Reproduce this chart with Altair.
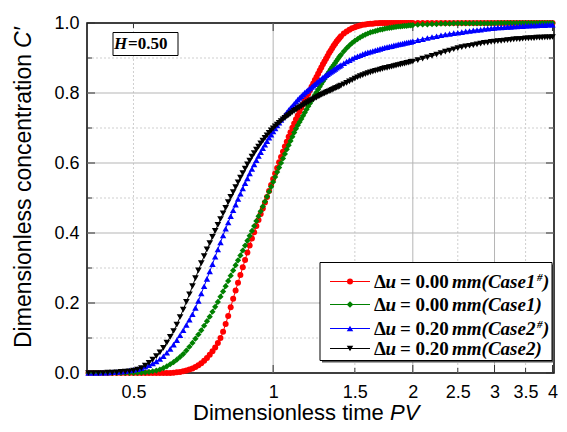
import altair as alt
import pandas as pd

# ---------------- data ----------------
PV = [
    0.40, 0.41, 0.42, 0.43, 0.44, 0.45, 0.46, 0.47, 0.48, 0.49,
    0.50, 0.51, 0.52, 0.53, 0.54, 0.55, 0.56, 0.57, 0.58, 0.59,
    0.60, 0.61, 0.62, 0.63, 0.64, 0.65, 0.66, 0.67, 0.68, 0.69,
    0.70, 0.71, 0.72, 0.73, 0.74, 0.75, 0.76, 0.77, 0.78, 0.79,
    0.80, 0.81, 0.82, 0.83, 0.84, 0.85, 0.86, 0.87, 0.88, 0.89,
    0.90, 0.91, 0.92, 0.93, 0.94, 0.95, 0.96, 0.97, 0.98, 0.99,
    1.00, 1.01, 1.02, 1.03, 1.04, 1.05, 1.06, 1.07, 1.08, 1.09,
    1.10, 1.11, 1.12, 1.13, 1.14, 1.15, 1.16, 1.17, 1.18, 1.19,
    1.20, 1.21, 1.22, 1.23, 1.24, 1.25, 1.26, 1.27, 1.28, 1.29,
    1.30, 1.31, 1.32, 1.33, 1.34, 1.35, 1.36, 1.37, 1.38, 1.39,
    1.40,
    1.42, 1.44, 1.46, 1.48, 1.50, 1.52, 1.54, 1.56, 1.58, 1.60,
    1.62, 1.64, 1.66, 1.68, 1.70, 1.72, 1.74, 1.76, 1.78, 1.80,
    1.82, 1.84, 1.86, 1.88, 1.90, 1.92, 1.94, 1.96, 1.98, 2.00,
    2.05, 2.10, 2.15, 2.20, 2.25, 2.30, 2.35, 2.40, 2.45, 2.50,
    2.55, 2.60, 2.65, 2.70, 2.75, 2.80, 2.85, 2.90, 2.95, 3.00,
    3.05, 3.10, 3.15, 3.20, 3.25, 3.30, 3.35, 3.40, 3.45, 3.50,
    3.55, 3.60, 3.65, 3.70, 3.75, 3.80, 3.85, 3.90, 3.95, 4.00,
]

C_CASE1_SHARP = [
    0.000, 0.000, 0.000, 0.000, 0.000, 0.000, 0.000, 0.000, 0.000, 0.000,
    0.000, 0.000, 0.000, 0.000, 0.000, 0.000, 0.000, 0.000, 0.000, 0.000,
    0.000, 0.001, 0.002, 0.003, 0.005, 0.007, 0.010, 0.013, 0.017, 0.022,
    0.028, 0.035, 0.043, 0.052, 0.062, 0.073, 0.086, 0.100, 0.118, 0.140,
    0.163, 0.188, 0.212, 0.236, 0.258, 0.280, 0.302, 0.323, 0.344, 0.364,
    0.384, 0.402, 0.420, 0.437, 0.454, 0.470, 0.487, 0.503, 0.520, 0.537,
    0.554, 0.570, 0.586, 0.602, 0.617, 0.632, 0.647, 0.661, 0.675, 0.688,
    0.701, 0.713, 0.725, 0.736, 0.747, 0.758, 0.768, 0.778, 0.788, 0.798,
    0.808, 0.818, 0.827, 0.837, 0.846, 0.855, 0.864, 0.873, 0.882, 0.890,
    0.898, 0.906, 0.914, 0.921, 0.928, 0.935, 0.941, 0.947, 0.952, 0.957,
    0.962,
    0.970, 0.976, 0.981, 0.985, 0.988, 0.991, 0.993, 0.995, 0.996, 0.997,
    0.998, 0.998, 0.999, 0.999, 1.000, 1.000, 1.000, 1.000, 1.000, 1.000,
    1.000, 1.000, 1.000, 1.000, 1.000, 1.000, 1.000, 1.000, 1.000, 1.000,
    1.000, 1.000, 1.000, 1.000, 1.000, 1.000, 1.000, 1.000, 1.000, 1.000,
    1.000, 1.000, 1.000, 1.000, 1.000, 1.000, 1.000, 1.000, 1.000, 1.000,
    1.000, 1.000, 1.000, 1.000, 1.000, 1.000, 1.000, 1.000, 1.000, 1.000,
    1.000, 1.000, 1.000, 1.000, 1.000, 1.000, 1.000, 1.000, 1.000, 1.000,
]

C_CASE1 = [
    0.000, 0.000, 0.000, 0.000, 0.000, 0.000, 0.000, 0.000, 0.000, 0.000,
    0.000, 0.001, 0.001, 0.002, 0.003, 0.005, 0.007, 0.010, 0.014, 0.019,
    0.025, 0.031, 0.038, 0.046, 0.054, 0.064, 0.075, 0.086, 0.098, 0.110,
    0.122, 0.135, 0.148, 0.161, 0.175, 0.189, 0.203, 0.218, 0.233, 0.248,
    0.263, 0.278, 0.293, 0.308, 0.322, 0.336, 0.350, 0.364, 0.378, 0.392,
    0.406, 0.420, 0.434, 0.448, 0.462, 0.476, 0.490, 0.504, 0.518, 0.532,
    0.546, 0.560, 0.574, 0.587, 0.600, 0.613, 0.626, 0.639, 0.651, 0.663,
    0.675, 0.687, 0.698, 0.708, 0.717, 0.726, 0.735, 0.744, 0.753, 0.762,
    0.770, 0.778, 0.786, 0.794, 0.802, 0.810, 0.818, 0.826, 0.833, 0.840,
    0.847, 0.854, 0.861, 0.868, 0.874, 0.880, 0.886, 0.892, 0.898, 0.904,
    0.909,
    0.919, 0.928, 0.936, 0.943, 0.949, 0.954, 0.959, 0.963, 0.967, 0.970,
    0.973, 0.975, 0.977, 0.979, 0.981, 0.982, 0.984, 0.985, 0.986, 0.987,
    0.988, 0.989, 0.990, 0.990, 0.991, 0.992, 0.992, 0.993, 0.993, 0.994,
    0.995, 0.996, 0.996, 0.997, 0.997, 0.998, 0.998, 0.998, 0.999, 0.999,
    0.999, 0.999, 0.999, 0.999, 0.999, 0.999, 0.999, 0.999, 0.999, 0.999,
    1.000, 1.000, 1.000, 1.000, 1.000, 1.000, 1.000, 1.000, 1.000, 1.000,
    1.000, 1.000, 1.000, 1.000, 1.000, 1.000, 1.000, 1.000, 1.000, 1.000,
]

C_CASE2_SHARP = [
    0.000, 0.000, 0.000, 0.001, 0.001, 0.002, 0.003, 0.004, 0.005, 0.007,
    0.009, 0.011, 0.014, 0.018, 0.022, 0.027, 0.033, 0.040, 0.048, 0.058,
    0.069, 0.081, 0.094, 0.108, 0.122, 0.137, 0.152, 0.168, 0.186, 0.206,
    0.227, 0.248, 0.269, 0.290, 0.311, 0.332, 0.353, 0.373, 0.393, 0.412,
    0.430, 0.448, 0.465, 0.481, 0.497, 0.512, 0.527, 0.542, 0.556, 0.570,
    0.583, 0.596, 0.608, 0.620, 0.631, 0.642, 0.652, 0.662, 0.672, 0.681,
    0.690, 0.699, 0.707, 0.715, 0.723, 0.730, 0.737, 0.744, 0.751, 0.757,
    0.763, 0.769, 0.775, 0.781, 0.786, 0.791, 0.796, 0.801, 0.805, 0.809,
    0.813, 0.817, 0.821, 0.825, 0.829, 0.833, 0.837, 0.840, 0.844, 0.847,
    0.851, 0.854, 0.857, 0.860, 0.863, 0.866, 0.869, 0.872, 0.875, 0.877,
    0.880,
    0.885, 0.890, 0.894, 0.898, 0.902, 0.905, 0.908, 0.911, 0.914, 0.916,
    0.918, 0.920, 0.922, 0.924, 0.926, 0.928, 0.930, 0.931, 0.933, 0.934,
    0.936, 0.937, 0.939, 0.940, 0.941, 0.943, 0.944, 0.945, 0.946, 0.948,
    0.951, 0.954, 0.957, 0.960, 0.962, 0.965, 0.967, 0.969, 0.971, 0.972,
    0.974, 0.976, 0.977, 0.979, 0.980, 0.981, 0.983, 0.984, 0.985, 0.986,
    0.987, 0.987, 0.988, 0.989, 0.989, 0.990, 0.990, 0.991, 0.991, 0.992,
    0.992, 0.993, 0.993, 0.993, 0.994, 0.994, 0.994, 0.995, 0.995, 0.995,
]

C_CASE2 = [
    0.000, 0.000, 0.000, 0.000, 0.001, 0.001, 0.002, 0.003, 0.004, 0.005,
    0.007, 0.010, 0.014, 0.021, 0.029, 0.038, 0.048, 0.059, 0.072, 0.087,
    0.103, 0.120, 0.138, 0.160, 0.181, 0.203, 0.225, 0.248, 0.271, 0.293,
    0.314, 0.334, 0.353, 0.371, 0.389, 0.406, 0.423, 0.440, 0.456, 0.472,
    0.488, 0.503, 0.517, 0.531, 0.545, 0.558, 0.571, 0.584, 0.596, 0.607,
    0.618, 0.628, 0.638, 0.647, 0.656, 0.664, 0.672, 0.679, 0.686, 0.693,
    0.699, 0.705, 0.710, 0.715, 0.720, 0.725, 0.729, 0.733, 0.737, 0.741,
    0.745, 0.749, 0.752, 0.756, 0.759, 0.762, 0.765, 0.768, 0.771, 0.774,
    0.777, 0.780, 0.782, 0.785, 0.787, 0.790, 0.792, 0.795, 0.797, 0.799,
    0.801, 0.803, 0.805, 0.807, 0.809, 0.811, 0.813, 0.815, 0.817, 0.819,
    0.821,
    0.825, 0.829, 0.833, 0.837, 0.841, 0.845, 0.848, 0.851, 0.854, 0.857,
    0.859, 0.861, 0.863, 0.865, 0.867, 0.869, 0.871, 0.872, 0.874, 0.875,
    0.877, 0.878, 0.880, 0.881, 0.883, 0.884, 0.886, 0.887, 0.889, 0.890,
    0.894, 0.898, 0.902, 0.906, 0.910, 0.914, 0.918, 0.921, 0.925, 0.928,
    0.931, 0.933, 0.935, 0.937, 0.939, 0.941, 0.943, 0.944, 0.946, 0.947,
    0.948, 0.949, 0.950, 0.951, 0.952, 0.953, 0.954, 0.954, 0.955, 0.956,
    0.956, 0.957, 0.957, 0.958, 0.958, 0.958, 0.959, 0.959, 0.959, 0.960,
]

SERIES = ["Case1#", "Case1", "Case2#", "Case2"]
DU = ["0.00", "0.00", "0.20", "0.20"]
CASE = ["Case1", "Case1", "Case2", "Case2"]
SHARP = [True, False, True, False]
COLORS = ["#ff0000", "#008000", "#0000ff", "#000000"]
SHAPES = ["circle", "diamond", "triangle-up", "triangle-down"]
SIZES = [36, 44, 42, 42]

X_LABELS = [0.5, 1, 1.5, 2, 2.5, 3, 3.5, 4]
X_GRID_SOLID = [1, 2, 3]
X_GRID_DASH = [0.5, 1.5, 2.5, 3.5]
X_TICK_MAJOR = [1, 2, 3, 4]
X_TICK_MINOR = [0.5, 1.5, 2.5, 3.5]
Y_LABELS = [0.0, 0.2, 0.4, 0.6, 0.8, 1.0]
Y_GRID_SOLID = [0.2, 0.4, 0.6, 0.8]
Y_GRID_DASH = [0.1, 0.3, 0.5, 0.7, 0.9]
Y_TICK_MINOR = [0.1, 0.3, 0.5, 0.7, 0.9]

H_LABEL = "=0.50"

for arr in (C_CASE1_SHARP, C_CASE1, C_CASE2_SHARP, C_CASE2):
    assert len(arr) == len(PV), len(arr)

# ---------------- layout (whole chart kept inside 551 x 416) ----------------
PAD_L, PAD_T = 79, 15
W, H = 467, 350
PAD_R = 551 - PAD_L - W
PAD_B = 416 - PAD_T - H
SANS = "Liberation Sans"
SERIF = "Liberation Serif"

xscale = alt.Scale(type="log", domain=[0.397, 4.03], nice=False)
yscale = alt.Scale(domain=[0, 1], nice=False, zero=False)

rows = []
for name, vals in zip(SERIES, [C_CASE1_SHARP, C_CASE1, C_CASE2_SHARP, C_CASE2]):
    for p, c in zip(PV, vals):
        rows.append({"PV": p, "C": c, "series": name})
df = pd.DataFrame(rows)

one = pd.DataFrame({"k": [0]})
layers = []


def vrule(vals, color, dash=None):
    kw = dict(color=color, strokeWidth=1)
    if dash:
        kw["strokeDash"] = dash
    return alt.Chart(pd.DataFrame({"v": vals})).mark_rule(**kw).encode(
        x=alt.X("v:Q", scale=xscale, axis=None))


def hrule(vals, color, dash=None):
    kw = dict(color=color, strokeWidth=1)
    if dash:
        kw["strokeDash"] = dash
    return alt.Chart(pd.DataFrame({"v": vals})).mark_rule(**kw).encode(
        y=alt.Y("v:Q", scale=yscale, axis=None))


# axes (drawn by their own invisible layer)
xaxis = alt.Axis(values=X_LABELS, format="~g", labelFont=SANS, labelFontSize=18,
                 labelColor="black", ticks=False, domain=False, grid=False, title=None,
                 labelPadding=10, labelOverlap=False, labelFlush=False, orient="bottom")
yaxis = alt.Axis(values=Y_LABELS, format=".1f", labelFont=SANS, labelFontSize=18,
                 labelColor="black", ticks=False, domain=False, grid=False, title=None,
                 labelPadding=8, labelOverlap=False, labelFlush=False, orient="left")
layers.append(alt.Chart(df).mark_point(opacity=0).encode(
    x=alt.X("PV:Q", scale=xscale, axis=xaxis),
    y=alt.Y("C:Q", scale=yscale, axis=yaxis)))

# grid
layers += [
    vrule(X_GRID_DASH, "#cfcfcf", [2, 2]),
    hrule(Y_GRID_DASH, "#cfcfcf", [2, 2]),
    vrule(X_GRID_SOLID, "#b5b5b5"),
    hrule(Y_GRID_SOLID, "#b5b5b5"),
]


# inward ticks on all four sides
def xticks(vals, length):
    d = pd.DataFrame({"v": vals})
    out = []
    for y0, y1 in [(H, H - length), (0, length)]:
        out.append(alt.Chart(d).mark_rule(color="#333333", strokeWidth=1).encode(
            x=alt.X("v:Q", scale=xscale, axis=None),
            y=alt.value(y0), y2=alt.value(y1)))
    return out


def yticks(vals, length):
    d = pd.DataFrame({"v": vals})
    out = []
    for x0, x1 in [(0, length), (W, W - length)]:
        out.append(alt.Chart(d).mark_rule(color="#333333", strokeWidth=1).encode(
            y=alt.Y("v:Q", scale=yscale, axis=None),
            x=alt.value(x0), x2=alt.value(x1)))
    return out


layers += xticks(X_TICK_MAJOR, 8) + xticks(X_TICK_MINOR, 5)
layers += yticks(Y_LABELS, 8) + yticks(Y_TICK_MINOR, 5)

color = alt.Color("series:N", scale=alt.Scale(domain=SERIES, range=COLORS), legend=None)
shape = alt.Shape("series:N", scale=alt.Scale(domain=SERIES, range=SHAPES), legend=None)
size = alt.Size("series:N", scale=alt.Scale(domain=SERIES, range=SIZES), legend=None)

lines = alt.Chart(df).mark_line(strokeWidth=1).encode(
    x=alt.X("PV:Q", scale=xscale, axis=None),
    y=alt.Y("C:Q", scale=yscale, axis=None),
    color=color, detail="series:N")
points = alt.Chart(df).mark_point(filled=True, opacity=1, strokeWidth=0).encode(
    x=alt.X("PV:Q", scale=xscale, axis=None),
    y=alt.Y("C:Q", scale=yscale, axis=None),
    color=color, shape=shape, size=size)
layers += [lines, points]

# legend box (hugging the lower right corner)
LX1 = W - 2
LX0 = LX1 - 232
LY1 = H - 12.5
LY0 = LY1 - 98
layers.append(alt.Chart(one).mark_rect(fill="#555555").encode(
    x=alt.value(LX0 + 2), x2=alt.value(LX1 + 2), y=alt.value(LY0 + 2), y2=alt.value(LY1 + 2)))
layers.append(alt.Chart(one).mark_rect(fill="white", stroke="black", strokeWidth=1).encode(
    x=alt.value(LX0), x2=alt.value(LX1), y=alt.value(LY0), y2=alt.value(LY1)))

ROW_OFF = [19, 42, 66, 86]


def txt(text, x, y, size=19, font=SERIF, weight="bold", style="normal", align="left", angle=None):
    kw = dict(text=text, font=font, fontSize=size, fontWeight=weight, fontStyle=style,
              align=align, baseline="alphabetic", color="black")
    if angle is not None:
        kw["angle"] = angle
    return alt.Chart(one).mark_text(**kw).encode(x=alt.value(x), y=alt.value(y))


for i, off in enumerate(ROW_OFF):
    ry = LY0 + off
    layers.append(alt.Chart(one).mark_rule(color=COLORS[i], strokeWidth=1).encode(
        x=alt.value(LX0 + 10), x2=alt.value(LX0 + 50), y=alt.value(ry)))
    layers.append(alt.Chart(one).mark_point(filled=True, opacity=1, strokeWidth=0,
                                            color=COLORS[i], shape=SHAPES[i],
                                            size=SIZES[i]).encode(
        x=alt.value(LX0 + 30), y=alt.value(ry)))
    by = ry + 6.5
    layers.append(txt("\u0394", LX0 + 54, by))
    layers.append(txt("u", LX0 + 65.5, by, style="italic"))
    layers.append(txt("= " + DU[i], LX0 + 80, by))
    if SHARP[i]:
        layers.append(txt("mm(" + CASE[i], LX0 + 132, by, style="italic"))
        layers.append(txt("#", LX0 + 217, by - 7, size=11, style="italic"))
        layers.append(txt(")", LX0 + 223, by, style="italic"))
    else:
        layers.append(txt("mm(" + CASE[i] + ")", LX0 + 132, by, style="italic"))

# H=0.50 box
layers.append(alt.Chart(one).mark_rect(fill="white", stroke="black", strokeWidth=1).encode(
    x=alt.value(26), x2=alt.value(91), y=alt.value(9.5), y2=alt.value(32.5)))
layers.append(txt("H", 27, 26, size=17, style="italic"))
layers.append(txt(H_LABEL, 41, 26, size=17))

# axis titles (mixed upright / italic)
layers.append(txt("Dimensionless time", 106, H + 47, size=22, font=SANS, weight="normal"))
layers.append(txt("PV", 303, H + 47, size=22, font=SANS, weight="normal", style="italic"))
layers.append(txt("Dimensionless concentration", -56, 325, size=23, font=SANS,
                  weight="normal", angle=270))
layers.append(txt("C\u2032", -56, 25, size=23, font=SANS, weight="normal",
                  style="italic", angle=270))

chart = alt.layer(*layers).resolve_axis(x="independent", y="independent").properties(
    width=W, height=H,
    autosize=alt.AutoSizeParams(type="none"),
    padding={"left": PAD_L, "top": PAD_T, "right": PAD_R, "bottom": PAD_B},
).configure_view(stroke="black", strokeWidth=1.5)

chart.save("out.html", embed_options={"renderer": "svg", "actions": False})
